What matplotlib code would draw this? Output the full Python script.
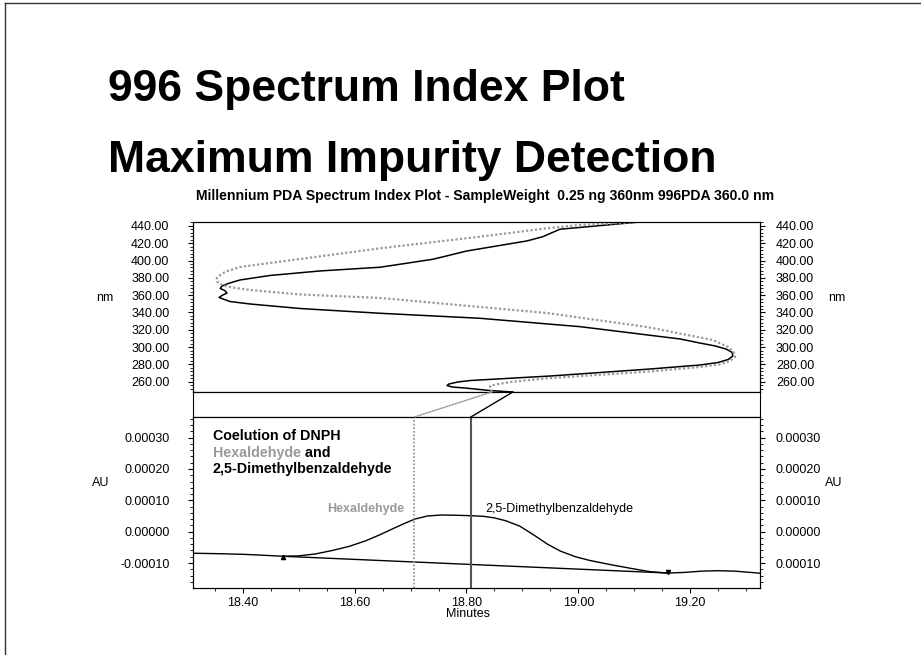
import matplotlib
matplotlib.use('Agg')
import matplotlib.pyplot as plt
from matplotlib.patches import ConnectionPatch
from matplotlib.lines import Line2D
from matplotlib.ticker import MultipleLocator

plt.rcParams['font.family'] = ['Liberation Sans', 'DejaVu Sans']

# upper panel: spectra drawn sideways (relative absorbance across the panel, wavelength up)
solid_abs = [0.564, 0.524, 0.480, 0.457, 0.448, 0.451, 0.467, 0.489, 0.630, 0.806, 0.894,
             0.926, 0.944, 0.952, 0.951, 0.940, 0.921, 0.894, 0.859, 0.683, 0.506, 0.330,
             0.189, 0.101, 0.065, 0.053, 0.046, 0.051, 0.060, 0.056, 0.048, 0.051, 0.062,
             0.083, 0.136, 0.224, 0.330, 0.423, 0.483, 0.589, 0.617, 0.647, 0.783]
solid_nm = [248.1, 249.8, 252.7, 253.9, 255.6, 257.3, 259.7, 261.4, 266.6, 274.7, 279.3,
            282.2, 285.7, 289.7, 293.8, 297.8, 301.3, 304.7, 309.4, 323.6, 333.3, 339.1,
            344.6, 349.8, 352.7, 355.6, 357.3, 359.7, 362.5, 365.4, 367.7, 370.6, 373.5,
            377.6, 382.8, 388.0, 392.3, 401.5, 411.1, 422.7, 427.6, 436.2, 444.3]

dotted_abs = [0.527, 0.524, 0.533, 0.564, 0.624, 0.801, 0.894, 0.929, 0.947, 0.956, 0.954,
              0.944, 0.917, 0.801, 0.624, 0.330, 0.189, 0.101, 0.069, 0.051, 0.042, 0.042,
              0.048, 0.058, 0.083, 0.153, 0.330, 0.506, 0.624, 0.683, 0.783]
dotted_nm = [248.1, 255.0, 256.8, 260.0, 264.0, 271.6, 277.0, 279.9, 283.9, 288.6, 293.2,
             300.1, 308.2, 323.2, 339.4, 356.8, 360.8, 366.0, 368.9, 371.8, 375.8, 379.9,
             383.4, 387.4, 392.6, 398.7, 414.2, 427.6, 437.3, 441.2, 444.3]

# lower panel: chromatogram
minutes = [18.311, 18.350, 18.400, 18.440, 18.472, 18.500, 18.530, 18.560, 18.590, 18.620,
           18.645, 18.670, 18.690, 18.708, 18.730, 18.754, 18.780, 18.807, 18.830, 18.850,
           18.870, 18.895, 18.920, 18.945, 18.968, 18.995, 19.021, 19.060, 19.100, 19.130,
           19.161, 19.190, 19.220, 19.250, 19.280, 19.325]
au = [-0.0000688, -0.0000700, -0.0000722, -0.0000755, -0.0000785, -0.0000772, -0.0000710,
      -0.0000600, -0.0000470, -0.0000290, -0.0000100, 0.0000108, 0.0000270, 0.0000404,
      0.0000500, 0.0000532, 0.0000525, 0.0000510, 0.0000490, 0.0000440, 0.0000350,
      0.0000180, -0.0000100, -0.0000400, -0.0000620, -0.0000800, -0.0000920, -0.0001060,
      -0.0001190, -0.0001280, -0.0001320, -0.0001300, -0.0001260, -0.0001245, -0.0001260,
      -0.0001325]
baseline_min = [18.472, 19.161]
baseline_au = [-0.0000785, -0.0001320]
hexal_time = 18.707
dmb_time = 18.808

nm_ticks = [260, 280, 300, 320, 340, 360, 380, 400, 420, 440]
au_ticks = [-0.0001, 0.0, 0.0001, 0.0002, 0.0003]
au_left_labels = ['-0.00010', '0.00000', '0.00010', '0.00020', '0.00030']
au_right_labels = ['0.00010', '0.00000', '0.00010', '0.00020', '0.00030']
min_ticks = [18.4, 18.6, 18.8, 19.0, 19.2]

fig = plt.figure(figsize=(9.21, 6.55), dpi=100)

# slide frame
fig.add_artist(Line2D([5/921, 1], [1 - 3/655, 1 - 3/655], color='#333333', lw=1))
fig.add_artist(Line2D([5/921, 5/921], [0, 1 - 3/655], color='#333333', lw=1))

fig.text(108/921, 1 - 101/655, '996 Spectrum Index Plot', fontsize=32, fontweight='bold')
fig.text(108/921, 1 - 172/655, 'Maximum Impurity Detection', fontsize=32, fontweight='bold')
fig.text(485/921, 1 - 200/655,
         'Millennium PDA Spectrum Index Plot - SampleWeight  0.25 ng 360nm 996PDA 360.0 nm',
         ha='center', va='baseline', fontsize=10.1, fontweight='bold')

ax_up = fig.add_axes([0.2096, 0.4015, 0.6156, 0.2596])
ax_gap = fig.add_axes([0.2096, 0.3634, 0.6156, 0.0381])
ax_lo = fig.add_axes([0.2096, 0.1023, 0.6156, 0.2611])

# --- upper ---
ax_up.plot(solid_abs, solid_nm, color='black', lw=1.1)
ax_up.plot(dotted_abs, dotted_nm, color='#999999', lw=1.6, ls=(0, (1, 1)))
ax_up.set_xlim(0, 1)
ax_up.set_ylim(248.1, 444.6)
ax_up.set_xticks([])
ax_up_r = ax_up.twinx()
ax_up_r.set_ylim(248.1, 444.6)
for a, side in [(ax_up, 'left'), (ax_up_r, 'right')]:
    a.set_yticks(nm_ticks)
    a.set_yticklabels(['%.2f' % v for v in nm_ticks])
    a.yaxis.set_minor_locator(MultipleLocator(4))
    a.tick_params(axis='y', which='major', length=3.5, width=0.8, labelsize=9,
                  pad=13.5 if side == 'left' else 8)
    a.tick_params(axis='y', which='minor', length=2.5, width=0.6)
ax_up.text(-0.155, 0.553, 'nm', transform=ax_up.transAxes, ha='center', va='center', fontsize=9)
ax_up.text(1.136, 0.553, 'nm', transform=ax_up.transAxes, ha='center', va='center', fontsize=9)

# --- gap box ---
ax_gap.set_xticks([])
ax_gap.set_yticks([])

# --- lower ---
ax_lo.plot(minutes, au, color='black', lw=1)
ax_lo.plot(baseline_min, baseline_au, color='black', lw=1)
ax_lo.plot(baseline_min[0], baseline_au[0] - 0.0000035, marker='^', ms=3, color='black')
ax_lo.plot(baseline_min[1], baseline_au[1] + 0.0000045, marker='v', ms=3, color='black')
ax_lo.axvline(hexal_time, color='#999999', lw=1.3, ls=(0, (1, 1)))
ax_lo.axvline(dmb_time, color='#555555', lw=1.5)
ax_lo.set_xlim(18.311, 19.325)
ax_lo.set_ylim(-0.0001797, 0.000366)
ax_lo.set_xticks(min_ticks)
ax_lo.set_xticklabels(['%.2f' % v for v in min_ticks])
ax_lo.xaxis.set_minor_locator(MultipleLocator(0.05))
ax_lo.tick_params(axis='x', which='major', length=3.5, width=0.8, labelsize=9, pad=3)
ax_lo.tick_params(axis='x', which='minor', length=2.5, width=0.6)
ax_lo.set_xlabel('Minutes', fontsize=9, labelpad=0)
ax_lo.xaxis.set_label_coords(0.485, -0.118)
ax_lo_r = ax_lo.twinx()
ax_lo_r.set_ylim(-0.0001797, 0.000366)
for a, labels, side in [(ax_lo, au_left_labels, 'left'), (ax_lo_r, au_right_labels, 'right')]:
    a.set_yticks(au_ticks)
    a.set_yticklabels(labels)
    a.yaxis.set_minor_locator(MultipleLocator(0.00002))
    a.tick_params(axis='y', which='major', length=3.5, width=0.8, labelsize=9,
                  pad=13.5 if side == 'left' else 8)
    a.tick_params(axis='y', which='minor', length=2.5, width=0.6)
ax_lo.text(-0.162, 0.614, 'AU', transform=ax_lo.transAxes, ha='center', va='center', fontsize=9)
ax_lo.text(1.130, 0.614, 'AU', transform=ax_lo.transAxes, ha='center', va='center', fontsize=9)

ax_lo.text(0.0347, 0.8655, 'Coelution of DNPH', transform=ax_lo.transAxes,
           fontsize=10.3, fontweight='bold', va='baseline')
t = ax_lo.text(0.0347, 0.768, 'Hexaldehyde', transform=ax_lo.transAxes,
               fontsize=10.3, fontweight='bold', va='baseline', color='#999999')
ax_lo.annotate(' and', xy=(1, 0), xycoords=t, fontsize=10.3, fontweight='bold',
               va='bottom', ha='left')
ax_lo.text(0.0347, 0.671, '2,5-Dimethylbenzaldehyde', transform=ax_lo.transAxes,
           fontsize=10.3, fontweight='bold', va='baseline')
ax_lo.text(18.688, 0.0000619, 'Hexaldehyde', ha='right', va='baseline', fontsize=9,
           fontweight='bold', color='#999999')
ax_lo.text(18.834, 0.0000638, '2,5-Dimethylbenzaldehyde', ha='left', va='baseline', fontsize=9)

# connectors from the chromatogram to the spectra
lo_top = ax_lo.get_ylim()[1]
up_bot = ax_up.get_ylim()[0]
fig.add_artist(ConnectionPatch(xyA=(hexal_time, lo_top), coordsA=ax_lo.transData,
                               xyB=(dotted_abs[0], up_bot), coordsB=ax_up.transData,
                               color='#999999', lw=1.1, ls=(0, (1, 1))))
fig.add_artist(ConnectionPatch(xyA=(dmb_time, lo_top), coordsA=ax_lo.transData,
                               xyB=(solid_abs[0], up_bot), coordsB=ax_up.transData,
                               color='black', lw=1))

fig.savefig('out.png', dpi=100)
